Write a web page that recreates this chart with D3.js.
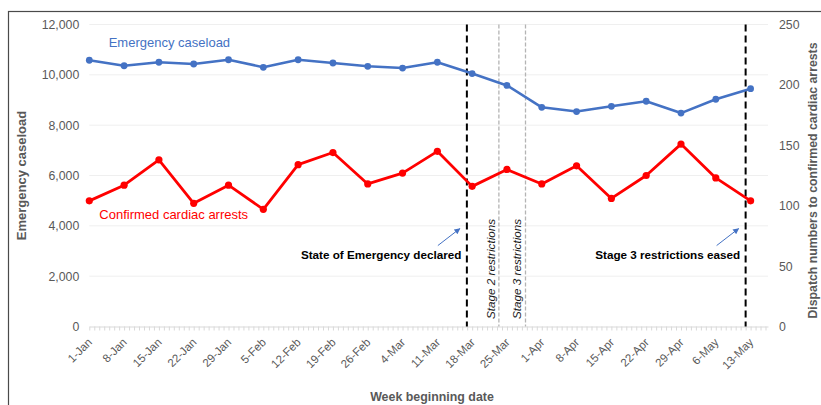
<!DOCTYPE html>
<html>
<head>
<meta charset="utf-8">
<script src="https://cdn.jsdelivr.net/npm/d3@7"></script>
<style>
  body { margin: 0; background: #fff; }
  svg { display: block; font-family: "Liberation Sans", Arial, sans-serif; }
</style>
</head>
<body>
<div id="container"></div>
<script>
/* CONSTANTS AND GLOBALS */
const width = 821;
const height = 405;
const margin = { top: 24.5, bottom: 78.5, left: 89.3, right: 53 };

/* DATA */
const weekLabels = ["1-Jan", "8-Jan", "15-Jan", "22-Jan", "29-Jan", "5-Feb", "12-Feb", "19-Feb", "26-Feb", "4-Mar",
  "11-Mar", "18-Mar", "25-Mar", "1-Apr", "8-Apr", "15-Apr", "22-Apr", "29-Apr", "6-May", "13-May"];
const caseload = [10580, 10360, 10500, 10430, 10600, 10300, 10600, 10470, 10340, 10270,
  10500, 10050, 9580, 8710, 8540, 8750, 8950, 8480, 9030, 9450];
const arrests = [104, 117, 138, 102, 117, 97, 134, 144, 118, 127,
  145, 116, 130, 118, 133, 106, 125, 151, 123, 104];
const leftTicks = [0, 2000, 4000, 6000, 8000, 10000, 12000];
const rightTicks = [0, 50, 100, 150, 200, 250];
const eventLabels = ["State of Emergency declared", "Stage 2 restrictions", "Stage 3 restrictions", "Stage 3 restrictions eased"];
const eventDates = ["2020-03-16T22:30", "2020-03-23T09:00", "2020-03-28T17:30", "2020-05-12T00:00"];

const parseWeek = d3.utcParse("%d-%b-%Y");
const parseEvent = d3.utcParse("%Y-%m-%dT%H:%M");
const weeks = weekLabels.map(d => parseWeek(d + "-2020"));
const events = eventLabels.map((label, i) => ({ label, date: parseEvent(eventDates[i]) }));

/* SCALES */
// axis runs half a week past the last point
const xEnd = d3.utcHour.offset(weeks[weeks.length - 1], 84);
const xScale = d3.scaleUtc()
  .domain([weeks[0], xEnd])
  .range([margin.left, width - margin.right]);

const yLeft = d3.scaleLinear()
  .domain([0, 12000])
  .range([height - margin.bottom, margin.top]);

const yRight = d3.scaleLinear()
  .domain([0, 250])
  .range([height - margin.bottom, margin.top]);

/* HTML ELEMENTS */
const svg = d3.select("#container")
  .append("svg")
  .attr("width", width)
  .attr("height", height);

// chart frame (right/bottom edges fall outside the picture)
svg.append("rect")
  .attr("x", 8.5).attr("y", 11.5)
  .attr("width", 900).attr("height", 500)
  .attr("fill", "none")
  .attr("stroke", "#4a4a4a")
  .attr("stroke-width", 1.2);

// gridlines
svg.append("g")
  .selectAll("line")
  .data(leftTicks.slice(1))
  .join("line")
  .attr("x1", margin.left)
  .attr("x2", width - margin.right)
  .attr("y1", d => yLeft(d))
  .attr("y2", d => yLeft(d))
  .attr("stroke", "#efefef")
  .attr("stroke-width", 1);

// left axis
const leftAxis = svg.append("g")
  .attr("transform", `translate(${margin.left},0)`)
  .call(d3.axisLeft(yLeft).tickValues(leftTicks).tickFormat(d3.format(",")).tickSize(0).tickPadding(10));
leftAxis.select(".domain").remove();
leftAxis.selectAll("text").attr("font-size", 12.3).attr("fill", "#595959").attr("font-family", null);

// right axis
const rightAxis = svg.append("g")
  .attr("transform", `translate(${width - margin.right},0)`)
  .call(d3.axisRight(yRight).tickValues(rightTicks).tickSize(0).tickPadding(11));
rightAxis.select(".domain").remove();
rightAxis.selectAll("text").attr("font-size", 12.3).attr("fill", "#595959").attr("font-family", null);

// x axis: ticks every half week
const halfWeeks = d3.utcHour.every(84).range(weeks[0], d3.utcHour.offset(xEnd, 1));
const xAxis = svg.append("g")
  .attr("transform", `translate(0,${height - margin.bottom})`)
  .call(d3.axisBottom(xScale).tickValues(halfWeeks).tickFormat("").tickSize(4).tickSizeOuter(0));
xAxis.select(".domain").attr("stroke", "#d9d9d9");
xAxis.selectAll(".tick line").attr("stroke", "#d9d9d9");

// x labels
const xLabels = svg.append("g")
  .attr("transform", `translate(0,${height - margin.bottom})`)
  .call(d3.axisBottom(xScale).tickValues(weeks).tickFormat((d, i) => weekLabels[i]).tickSize(0));
xLabels.select(".domain").remove();
xLabels.selectAll("text")
  .attr("y", 0).attr("dy", 0)
  .attr("transform", "translate(3,16.5) rotate(-45)")
  .attr("text-anchor", "end")
  .attr("font-size", 11.5)
  .attr("font-family", null)
  .attr("fill", "#595959");

// axis titles
svg.append("text")
  .attr("transform", `translate(25.5,${(yLeft(0) + yLeft(12000)) / 2}) rotate(-90)`)
  .attr("text-anchor", "middle")
  .attr("font-size", 13).attr("font-weight", "bold").attr("fill", "#595959")
  .text("Emergency caseload");

svg.append("text")
  .attr("transform", `translate(817,${(yRight(0) + yRight(250)) / 2 + 5}) rotate(-90)`)
  .attr("text-anchor", "middle")
  .attr("font-size", 12.3).attr("font-weight", "bold").attr("fill", "#595959")
  .text("Dispatch numbers to confirmed cardiac arrests");

svg.append("text")
  .attr("x", 432).attr("y", 401)
  .attr("text-anchor", "middle")
  .attr("font-size", 12.4).attr("font-weight", "bold").attr("fill", "#595959")
  .text("Week beginning date");

// event lines
const major = [true, false, false, true];
svg.append("g")
  .selectAll("line")
  .data(events)
  .join("line")
  .attr("x1", d => xScale(d.date))
  .attr("x2", d => xScale(d.date))
  .attr("y1", yLeft(12000))
  .attr("y2", yLeft(0))
  .attr("stroke", (d, i) => major[i] ? "#000" : "#b4b4b4")
  .attr("stroke-width", (d, i) => major[i] ? 2 : 1.3)
  .attr("stroke-dasharray", (d, i) => major[i] ? "7,4" : "4,2");

// arrowhead
svg.append("defs").append("marker")
  .attr("id", "arrow")
  .attr("viewBox", "0 0 10 10")
  .attr("refX", 9).attr("refY", 5)
  .attr("markerWidth", 7).attr("markerHeight", 6)
  .attr("orient", "auto")
  .append("path")
  .attr("d", "M0,0L10,5L0,10z")
  .attr("fill", "#4472C4");

// bold labels with arrows for the major events
const majorEvents = events.filter((d, i) => major[i]);
const labelBase = yLeft(2700);
svg.append("g")
  .selectAll("text")
  .data(majorEvents)
  .join("text")
  .attr("x", d => xScale(d.date) - 5.5)
  .attr("y", labelBase)
  .attr("text-anchor", "end")
  .attr("font-size", 11.7).attr("font-weight", "bold").attr("fill", "#000")
  .text(d => d.label);

svg.append("g")
  .selectAll("line")
  .data(majorEvents)
  .join("line")
  .attr("x1", d => xScale(d.date) - 29)
  .attr("y1", labelBase - 13)
  .attr("x2", d => xScale(d.date) - 7)
  .attr("y2", labelBase - 30)
  .attr("stroke", "#4472C4")
  .attr("stroke-width", 1)
  .attr("marker-end", "url(#arrow)");

// italic rotated labels for the minor events
svg.append("g")
  .selectAll("text")
  .data(events.filter((d, i) => !major[i]))
  .join("text")
  .attr("transform", d => `translate(${xScale(d.date) - 4.2},${yLeft(300)}) rotate(-90)`)
  .attr("font-size", 11.7).attr("font-style", "italic").attr("fill", "#1a1a1a")
  .text(d => d.label);

// series
const blue = "#4472C4";
const red = "#FF0000";

svg.append("path")
  .datum(caseload)
  .attr("fill", "none")
  .attr("stroke", blue)
  .attr("stroke-width", 2.6)
  .attr("stroke-linejoin", "round")
  .attr("d", d3.line().x((d, i) => xScale(weeks[i])).y(d => yLeft(d)));

svg.append("g")
  .selectAll("circle")
  .data(caseload)
  .join("circle")
  .attr("cx", (d, i) => xScale(weeks[i]))
  .attr("cy", d => yLeft(d))
  .attr("r", 3.4)
  .attr("fill", blue);

svg.append("path")
  .datum(arrests)
  .attr("fill", "none")
  .attr("stroke", red)
  .attr("stroke-width", 2.8)
  .attr("stroke-linejoin", "round")
  .attr("d", d3.line().x((d, i) => xScale(weeks[i])).y(d => yRight(d)));

svg.append("g")
  .selectAll("circle")
  .data(arrests)
  .join("circle")
  .attr("cx", (d, i) => xScale(weeks[i]))
  .attr("cy", d => yRight(d))
  .attr("r", 3.6)
  .attr("fill", red);

// series labels
svg.append("text")
  .attr("x", 108.7).attr("y", 47)
  .attr("font-size", 13).attr("fill", blue)
  .text("Emergency caseload");

svg.append("text")
  .attr("x", 99.3).attr("y", 219)
  .attr("font-size", 13).attr("fill", red)
  .text("Confirmed cardiac arrests");
</script>
</body>
</html>
